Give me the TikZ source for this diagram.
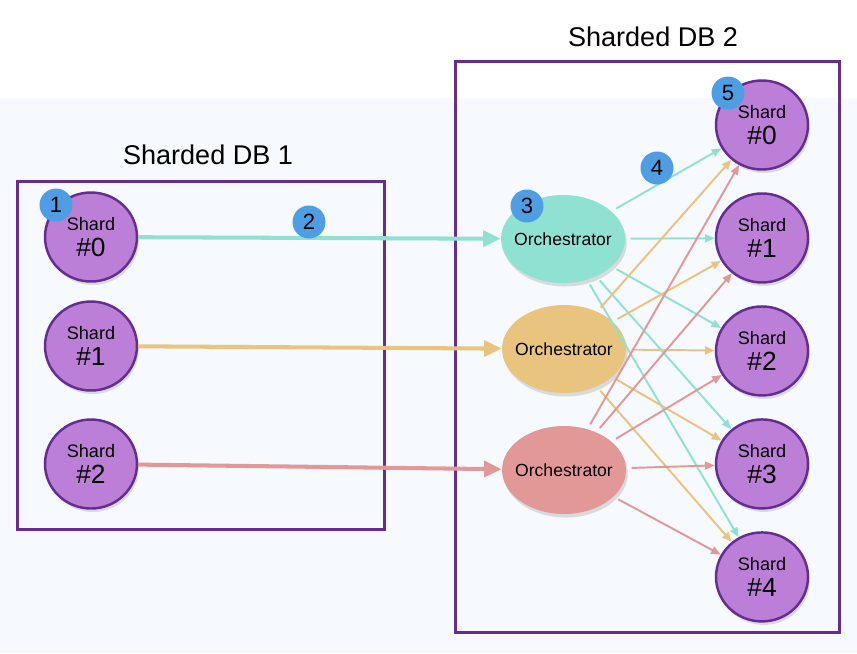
\documentclass[tikz,border=0pt]{standalone}
\usepackage{fontspec}
\setmainfont{Liberation Sans}
\usetikzlibrary{positioning, shapes.geometric, shadows, arrows.meta}

\definecolor{dbpurple}{HTML}{662D91}
\definecolor{shardfill}{HTML}{BC7FD8}
\definecolor{orchteal}{HTML}{8FE2D2}
\definecolor{orchsand}{HTML}{E8C47F}
\definecolor{orchrose}{HTML}{E39898}
\definecolor{badgeblue}{HTML}{4F9EE3}
\definecolor{paleback}{HTML}{F6F9FD}

\newcommand{\shardlabel}[1]{{\fontsize{10.3}{12}\selectfont Shard}\\[3pt]{\fontsize{15}{17}\selectfont\##1}}

\begin{document}
\begin{tikzpicture}[x=0.02cm, y=-0.02cm, node distance=2.26cm, on grid,
        shard/.style={ellipse, draw=dbpurple, line width=1.4pt, fill=shardfill,
            minimum width=1.84cm, minimum height=1.78cm, inner sep=0pt, align=center,
            drop shadow={opacity=0.25, shadow xshift=1pt, shadow yshift=-2pt}},
        orch/.style={ellipse, minimum width=2.48cm, minimum height=1.76cm,
            inner xsep=-4pt, inner ysep=0pt,
            font=\fontsize{10}{12}\selectfont,
            drop shadow={opacity=0.25, shadow xshift=1pt, shadow yshift=-2pt}},
        dbbox/.style={draw=dbpurple, line width=1.7pt, inner sep=0pt},
        dbtitle/.style={font=\fontsize{15.4}{18}\selectfont},
        badge/.style={circle, fill=badgeblue, minimum size=0.66cm, inner sep=0pt,
            font=\fontsize{12.6}{14}\selectfont},
        feed/.style={line width=2.3pt, -{Triangle[length=10pt, width=9pt]}},
        fan/.style={line width=1.1pt, -{Triangle[length=5.5pt, width=4.5pt]}, shorten <=3pt}]

        % background
        \fill[white] (0,0) rectangle (857,653);
        \fill[paleback] (0,98) rectangle (857,653);

        % the two databases
        \node[dbbox, minimum width=7.36cm, minimum height=6.98cm] (db1) at (201,355.5) {};
        \node[dbbox, minimum width=7.7cm, minimum height=11.44cm] (db2) at (647.5,347) {};
        \node[dbtitle] (t1) at (208,155) {Sharded DB 1};
        \node[dbtitle] (t2) at (653,37)  {Sharded DB 2};

        % source shards
        \node[shard] (l0) at (91,237) {\shardlabel{0}};
        \node[shard] (l1) at (91,346) {\shardlabel{1}};
        \node[shard] (l2) at (91,464) {\shardlabel{2}};

        % orchestrators
        \node[orch, fill=orchteal] (o0) at (563,239) {Orchestrator};
        \node[orch, fill=orchsand] (o1) at (564,349) {Orchestrator};
        \node[orch, fill=orchrose] (o2) at (564,470) {Orchestrator};

        % target shards
        \node[shard] (r0) at (762,125)    {\shardlabel{0}};
        \node[shard] (r1) [below=of r0]   {\shardlabel{1}};
        \node[shard] (r2) [below=of r1]   {\shardlabel{2}};
        \node[shard] (r3) [below=of r2]   {\shardlabel{3}};
        \node[shard] (r4) [below=of r3]   {\shardlabel{4}};

        \draw[feed, orchteal] (l0) -- (o0);
        \draw[feed, orchsand] (l1) -- (o1);
        \draw[feed, orchrose] (l2) -- (o2);

        \foreach \o/\c in {o0/orchteal, o1/orchsand, o2/orchrose}
            \foreach \s in {0,...,4}
                \draw[fan, \c] (\o) -- (r\s);

        % steps
        \node[badge] (b1) at (56,205)  {1};
        \node[badge] (b2) at (309,222) {2};
        \node[badge] (b3) at (527,206) {3};
        \node[badge] (b4) at (657,168) {4};
        \node[badge] (b5) at (728,93)  {5};
     \end{tikzpicture}
\end{document}
